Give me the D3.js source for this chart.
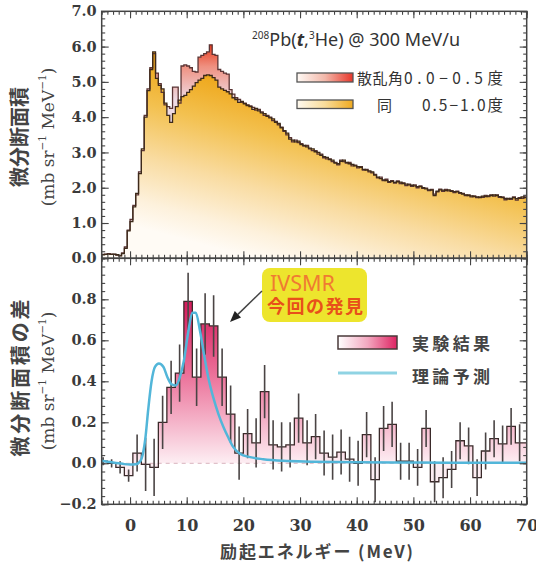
<!DOCTYPE html>
<html>
<head>
<meta charset="utf-8">
<script src="https://d3js.org/d3.v7.min.js"></script>
<style>
  body { margin: 0; background: #fff; }
  svg { display: block; }
</style>
</head>
<body>
<svg id="chart" width="536" height="562"></svg>
<script>
// ---- data ----
// upper panel: 0.5 MeV bins starting at -5 MeV
const specStart = -5;
const specWidth = 0.5;
// 散乱角 0.0-0.5度
const specFwd = [
  0.11, 0.12, 0.13, 0.12, 0.11, 0.09, 0.08, 0.15, 0.32, 0.80,
  1.10, 1.50, 1.80, 2.45, 3.05, 4.05, 4.80, 5.40, 5.80, 5.25,
  4.95, 4.70, 4.35, 4.30, 4.25, 4.85, 4.85, 4.40, 5.45, 5.48,
  5.45, 5.40, 5.30, 5.28, 5.70, 5.75, 5.80, 5.85, 6.05, 5.78,
  5.75, 5.35, 5.30, 5.25, 5.22, 4.78, 4.65, 4.55, 4.50, 4.42,
  4.40, 4.35, 4.32, 4.28, 4.20, 4.22, 4.15, 4.05, 4.05, 4.00,
  3.90, 3.88, 3.78, 3.72, 3.60, 3.50, 3.42, 3.30, 3.35, 3.28,
  3.25, 3.18, 3.20, 3.10, 3.05, 3.05, 2.95, 2.95, 2.85, 2.82,
  2.82, 2.74, 2.72, 2.65, 2.78, 2.74, 2.70, 2.72, 2.62, 2.64,
  2.56, 2.60, 2.50, 2.52, 2.45, 2.42, 2.38, 2.28, 2.30, 2.20,
  2.24, 2.15, 2.20, 2.13, 2.19, 2.12, 2.14, 2.06, 2.10, 2.04,
  2.08, 2.00, 2.05, 1.98, 1.99, 1.92, 1.95, 1.82, 1.88, 1.96,
  1.90, 1.95, 1.91, 1.92, 1.86, 1.90, 1.84, 1.84, 1.78, 1.80,
  1.74, 1.77, 1.72, 1.74, 1.73, 1.78, 1.75, 1.80, 1.76, 1.80,
  1.73, 1.74, 1.66, 1.70, 1.67, 1.74, 1.65, 1.72, 1.70, 1.76
];
// 同 0.5-1.0度
const specBack = [
  0.10, 0.11, 0.12, 0.11, 0.12, 0.10, 0.07, 0.13, 0.28, 0.78,
  1.04, 1.46, 1.84, 2.40, 3.10, 4.00, 4.75, 5.35, 5.85, 5.10,
  4.90, 4.80, 4.40, 4.05, 3.85, 4.10, 4.30, 4.48, 4.58, 4.62,
  4.70, 4.78, 4.88, 4.98, 5.05, 5.10, 5.18, 5.20, 5.18, 5.12,
  5.05, 4.85, 4.80, 4.76, 4.72, 4.66, 4.55, 4.50, 4.42, 4.45,
  4.38, 4.33, 4.30, 4.22, 4.25, 4.18, 4.12, 4.10, 4.02, 3.98,
  3.95, 3.85, 3.82, 3.70, 3.62, 3.55, 3.38, 3.35, 3.30, 3.32,
  3.22, 3.20, 3.16, 3.12, 3.10, 3.02, 3.00, 2.92, 2.88, 2.86,
  2.80, 2.78, 2.70, 2.68, 2.75, 2.78, 2.72, 2.68, 2.66, 2.62,
  2.60, 2.58, 2.52, 2.50, 2.48, 2.45, 2.36, 2.30, 2.26, 2.22,
  2.20, 2.17, 2.18, 2.15, 2.17, 2.16, 2.12, 2.10, 2.08, 2.07,
  2.05, 2.03, 2.03, 2.00, 1.97, 1.94, 1.93, 1.78, 1.90, 1.94,
  1.93, 1.92, 1.94, 1.90, 1.89, 1.88, 1.86, 1.82, 1.80, 1.78,
  1.77, 1.75, 1.74, 1.72, 1.76, 1.75, 1.77, 1.78, 1.80, 1.78,
  1.75, 1.72, 1.70, 1.68, 1.70, 1.72, 1.69, 1.70, 1.74, 1.72
];

// lower panel: difference, 1.5 MeV bins starting at -5.5 MeV
const diffStart = -5.5;
const diffWidth = 1.5;
const diffValues = [
  0.01, 0.00, -0.02, -0.06, 0.05, -0.005, -0.02, 0.20, 0.37, 0.44,
  0.79, 0.42, 0.68, 0.67, 0.42, 0.24, 0.05, 0.145, 0.10, 0.35,
  0.09, 0.08, 0.09, 0.22, 0.10, 0.13, 0.05, 0.03, 0.055, 0.02,
  0.00, 0.14, -0.08, 0.17, 0.19, 0.01, 0.01, -0.02, 0.17, -0.09,
  -0.07, -0.03, 0.11, 0.085, -0.07, 0.06, 0.12, 0.095, 0.18, 0.10,
  0.10
];
const diffErrors = [
  0.02, 0.02, 0.03, 0.03, 0.09, 0.13, 0.14, 0.13, 0.13, 0.14,
  0.14, 0.14, 0.15, 0.15, 0.14, 0.14, 0.13, 0.12, 0.12, 0.13,
  0.12, 0.12, 0.11, 0.12, 0.11, 0.11, 0.11, 0.11, 0.11, 0.11,
  0.11, 0.11, 0.11, 0.11, 0.11, 0.09, 0.09, 0.09, 0.09, 0.10,
  0.10, 0.09, 0.09, 0.09, 0.09, 0.09, 0.09, 0.09, 0.09, 0.09,
  0.09
];

// 理論予測 (theory curve)
const theoryE = [-5, -4, -3, -2, -1, 0, 1, 1.8, 2.3, 2.7, 3.2, 3.8, 4.4, 5.1, 5.9, 6.6, 7.35, 8.1, 8.8, 9.5,
  10.3, 11.0, 11.6, 12.35, 13.06, 13.8, 14.7, 15.6, 16.5, 17.3, 18.2, 19.4, 21.2, 23.5, 27, 32, 40, 50, 60, 70];
const theoryV = [0.012, 0.008, 0.004, 0.0, -0.004, -0.006, -0.005, 0.01, 0.05, 0.12, 0.26, 0.40, 0.47, 0.487, 0.47, 0.42, 0.385, 0.38, 0.42, 0.50,
  0.645, 0.735, 0.735, 0.645, 0.53, 0.42, 0.32, 0.24, 0.176, 0.128, 0.08, 0.047, 0.03, 0.02, 0.012, 0.008, 0.005, 0.004, 0.003, 0.003];

const xTicks = [0, 10, 20, 30, 40, 50, 60, 70];
const topTicks = [0, 1, 2, 3, 4, 5, 6, 7];
const bottomTicks = [-0.2, 0, 0.2, 0.4, 0.6, 0.8];

// ---- layout ----
const left = 101.7, right = 526.7;
const topY0 = 11.3, midY = 258.3, botY1 = 504.3;

const x = d3.scaleLinear().domain([-5, 70]).range([left, right]);
const yTop = d3.scaleLinear().domain([0, 7]).range([midY, topY0]);
const yBot = d3.scaleLinear().domain([-0.2, 1.0]).range([botY1, midY]);

const svg = d3.select('#chart');
const defs = svg.append('defs');

function gradient(id, attrs, stops) {
  const g = defs.append('linearGradient').attr('id', id);
  Object.entries(attrs).forEach(([k, v]) => g.attr(k, v));
  stops.forEach(([o, c]) => g.append('stop').attr('offset', o).attr('stop-color', c));
}

// orange fades from the curve towards the lower left
gradient('gradOrange', { gradientUnits: 'userSpaceOnUse', x1: 153, y1: 52, x2: 108, y2: 219 },
  [[0, '#eea312'], [0.3, '#f3c150'], [0.6, '#f9dca2'], [0.85, '#fdf1dc'], [1, '#fffbf5']]);
gradient('gradRed', { gradientUnits: 'userSpaceOnUse', x1: 0, y1: 44, x2: 0, y2: 100 },
  [[0, '#e6371a'], [0.4, '#ef9080'], [1, '#eedbe4']]);
gradient('gradPink', { gradientUnits: 'userSpaceOnUse', x1: 0, y1: yBot(0.8), x2: 0, y2: yBot(0) },
  [[0, '#d5175a'], [0.45, '#eb6f98'], [1, '#fdeef3']]);
gradient('legRed', { x1: 0, y1: 0, x2: 1, y2: 0 }, [[0, '#fffaf5'], [0.5, '#f2b8aa'], [1, '#e8362a']]);
gradient('legOrange', { x1: 0, y1: 0, x2: 1, y2: 0 }, [[0, '#fffaf0'], [0.5, '#f8dc9a'], [1, '#efaa20']]);
gradient('legPink', { x1: 0, y1: 0, x2: 1, y2: 0 }, [[0, '#ffffff'], [0.5, '#f3a8c0'], [1, '#de2362']]);

defs.append('clipPath').attr('id', 'topClip').append('rect')
  .attr('x', left).attr('y', topY0).attr('width', right - left).attr('height', midY - topY0);
defs.append('clipPath').attr('id', 'botClip').append('rect')
  .attr('x', left).attr('y', midY).attr('width', right - left).attr('height', botY1 - midY);

// histogram points for a step curve
function steps(start, width, vals) {
  const pts = vals.map((v, i) => [start + i * width, v]);
  pts.push([start + vals.length * width, vals[vals.length - 1]]);
  return pts;
}

// ---- upper panel ----
const topArea = d3.area().curve(d3.curveStepAfter)
  .x(d => x(d[0])).y0(yTop(0)).y1(d => yTop(d[1]));
const topLine = d3.line().curve(d3.curveStepAfter)
  .x(d => x(d[0])).y(d => yTop(d[1]));

const gTop = svg.append('g').attr('clip-path', 'url(#topClip)');
gTop.append('path').attr('d', topArea(steps(specStart, specWidth, specFwd))).attr('fill', 'url(#gradRed)');
gTop.append('path').attr('d', topArea(steps(specStart, specWidth, specBack))).attr('fill', 'url(#gradOrange)');
gTop.append('path').attr('d', topLine(steps(specStart, specWidth, specFwd)))
  .attr('fill', 'none').attr('stroke', '#5a3434').attr('stroke-width', 1.3);
gTop.append('path').attr('d', topLine(steps(specStart, specWidth, specBack)))
  .attr('fill', 'none').attr('stroke', '#3d2a1a').attr('stroke-width', 1.3);

// ---- lower panel ----
const botArea = d3.area().curve(d3.curveStepAfter)
  .x(d => x(d[0])).y0(yBot(0)).y1(d => yBot(d[1]));
const botLine = d3.line().curve(d3.curveStepAfter)
  .x(d => x(d[0])).y(d => yBot(d[1]));

const gBot = svg.append('g').attr('clip-path', 'url(#botClip)');
const diffPts = steps(diffStart, diffWidth, diffValues);
gBot.append('path').attr('d', botArea(diffPts)).attr('fill', 'url(#gradPink)');
gBot.append('line')
  .attr('x1', x(-5)).attr('x2', x(70)).attr('y1', yBot(0)).attr('y2', yBot(0))
  .attr('stroke', '#d9b3bd').attr('stroke-width', 1).attr('stroke-dasharray', '4,4');
gBot.append('path').attr('d', botLine(diffPts))
  .attr('fill', 'none').attr('stroke', '#3a2a2a').attr('stroke-width', 1.3);

diffValues.forEach((v, i) => {
  const c = diffStart + (i + 0.5) * diffWidth;
  gBot.append('line')
    .attr('x1', x(c)).attr('x2', x(c))
    .attr('y1', yBot(v - diffErrors[i])).attr('y2', yBot(v + diffErrors[i]))
    .attr('stroke', '#4a4444').attr('stroke-width', 1.6);
});

const theoryLine = d3.line().curve(d3.curveMonotoneX)
  .x((d, i) => x(theoryE[i])).y(d => yBot(d));
gBot.append('path').attr('d', theoryLine(theoryV))
  .attr('fill', 'none').attr('stroke', '#52b6d9').attr('stroke-width', 2.5);

// ---- axes / frame ----
const tickColor = '#444';
function axis(gen, tx, ty) {
  const g = svg.append('g').attr('transform', `translate(${tx},${ty})`).call(gen);
  g.select('.domain').remove();
  g.selectAll('.tick line').attr('stroke', tickColor).attr('stroke-width', 1.1);
  g.selectAll('.tick text')
    .attr('font-family', 'DejaVu Serif, serif').attr('font-weight', 'bold')
    .attr('fill', '#3a3a3a');
  return g;
}
const fmt = d3.format('.1f');
const minorTop = d3.range(0, 7.001, 0.2);
const minorBot = d3.range(-0.2, 1.001, 0.04);
const minorX = d3.range(-5, 70.001, 1);

// upper panel
axis(d3.axisLeft(yTop).tickValues(topTicks).tickSizeInner(-7).tickSizeOuter(0).tickPadding(5).tickFormat(fmt), left, 0)
  .selectAll('text').attr('font-size', 14.5);
axis(d3.axisLeft(yTop).tickValues(minorTop).tickSizeInner(-3.5).tickSizeOuter(0).tickFormat(''), left, 0);
axis(d3.axisRight(yTop).tickValues(topTicks).tickSizeInner(-7).tickSizeOuter(0).tickFormat(''), right, 0);
axis(d3.axisRight(yTop).tickValues(minorTop).tickSizeInner(-3.5).tickSizeOuter(0).tickFormat(''), right, 0);
axis(d3.axisTop(x).tickValues(xTicks).tickSizeInner(-7).tickSizeOuter(0).tickFormat(''), 0, topY0);
axis(d3.axisTop(x).tickValues(minorX).tickSizeInner(-3.5).tickSizeOuter(0).tickFormat(''), 0, topY0);
axis(d3.axisBottom(x).tickValues(xTicks).tickSizeInner(-7).tickSizeOuter(0).tickFormat(''), 0, midY);
axis(d3.axisBottom(x).tickValues(minorX).tickSizeInner(-3.5).tickSizeOuter(0).tickFormat(''), 0, midY);

// lower panel
axis(d3.axisLeft(yBot).tickValues(bottomTicks).tickSizeInner(-7).tickSizeOuter(0).tickPadding(5).tickFormat(fmt), left, 0)
  .selectAll('text').attr('font-size', 14.5);
axis(d3.axisLeft(yBot).tickValues(minorBot).tickSizeInner(-3.5).tickSizeOuter(0).tickFormat(''), left, 0);
axis(d3.axisRight(yBot).tickValues(bottomTicks).tickSizeInner(-7).tickSizeOuter(0).tickFormat(''), right, 0);
axis(d3.axisRight(yBot).tickValues(minorBot).tickSizeInner(-3.5).tickSizeOuter(0).tickFormat(''), right, 0);
axis(d3.axisTop(x).tickValues(xTicks).tickSizeInner(-7).tickSizeOuter(0).tickFormat(''), 0, midY);
axis(d3.axisTop(x).tickValues(minorX).tickSizeInner(-3.5).tickSizeOuter(0).tickFormat(''), 0, midY);
axis(d3.axisBottom(x).tickValues(xTicks).tickSizeInner(-7).tickSizeOuter(0).tickPadding(15).tickFormat(d3.format('d')), 0, botY1)
  .selectAll('text').attr('font-size', 16);
axis(d3.axisBottom(x).tickValues(minorX).tickSizeInner(-3.5).tickSizeOuter(0).tickFormat(''), 0, botY1);

svg.append('rect').attr('x', left).attr('y', topY0).attr('width', right - left).attr('height', midY - topY0)
  .attr('fill', 'none').attr('stroke', tickColor).attr('stroke-width', 1.5);
svg.append('rect').attr('x', left).attr('y', midY).attr('width', right - left).attr('height', botY1 - midY)
  .attr('fill', 'none').attr('stroke', tickColor).attr('stroke-width', 1.5);

// ---- axis titles ----
const jp = 'Noto Sans CJK JP, sans-serif';
function vTitle(cx, cy, text, len, size) {
  svg.append('text')
    .attr('transform', `translate(${cx},${cy}) rotate(-90)`)
    .attr('text-anchor', 'middle').attr('dominant-baseline', 'central')
    .attr('font-family', jp).attr('font-weight', 'bold').attr('font-size', size)
    .attr('fill', '#444').attr('textLength', len).attr('lengthAdjust', 'spacing')
    .text(text);
}
function unitTitle(cx, cy) {
  const t = svg.append('text')
    .attr('transform', `translate(${cx},${cy}) rotate(-90)`)
    .attr('text-anchor', 'middle').attr('dominant-baseline', 'central')
    .attr('font-family', 'DejaVu Serif, serif').attr('font-size', 17)
    .attr('fill', '#444');
  t.append('tspan').text('(mb sr');
  t.append('tspan').attr('font-size', 10.5).attr('dy', -6).text('−1');
  t.append('tspan').attr('dy', 6).text(' MeV');
  t.append('tspan').attr('font-size', 10.5).attr('dy', -6).text('−1');
  t.append('tspan').attr('dy', 6).text(')');
}
vTitle(18, 137, '微分断面積', 100, 20);
unitTitle(48, 137);
vTitle(19, 378, '微分断面積の差', 157, 20);
unitTitle(48, 381);

svg.append('text')
  .attr('x', 220).attr('y', 558)
  .attr('font-family', jp).attr('font-weight', 'bold').attr('font-size', 17)
  .attr('fill', '#444').attr('textLength', 193).attr('lengthAdjust', 'spacing')
  .text('励起エネルギー (MeV)');

// ---- reaction label ----
const title = svg.append('text')
  .attr('x', 252).attr('y', 46)
  .attr('font-family', 'Noto Sans, sans-serif').attr('font-size', 18).attr('fill', '#333')
  .attr('textLength', 208).attr('lengthAdjust', 'spacing');
title.append('tspan').attr('font-size', 10).attr('dy', -7).text('208');
title.append('tspan').attr('dy', 7).text('Pb(');
title.append('tspan').attr('font-style', 'italic').attr('font-weight', 'bold').text('t');
title.append('tspan').text(',');
title.append('tspan').attr('font-size', 10).attr('dy', -7).text('3');
title.append('tspan').attr('dy', 7).text('He) @ 300 MeV/u');

// ---- upper legend ----
svg.append('rect').attr('x', 297).attr('y', 73).attr('width', 56).attr('height', 9)
  .attr('fill', 'url(#legRed)').attr('stroke', '#555').attr('stroke-width', 1.3);
svg.append('rect').attr('x', 297).attr('y', 100).attr('width', 56).attr('height', 8.5)
  .attr('fill', 'url(#legOrange)').attr('stroke', '#555').attr('stroke-width', 1.3);
function label(xp, yp, text, len, size, anchor) {
  const t = svg.append('text').attr('x', xp).attr('y', yp)
    .attr('font-family', jp).attr('font-size', size).attr('fill', '#333')
    .attr('text-anchor', anchor || 'start').text(text);
  if (len) t.attr('textLength', len).attr('lengthAdjust', 'spacing');
  return t;
}
label(357, 84, '散乱角', 46, 15);
label(404, 84, '0.0−0.5度', 99, 15.5);
label(377, 110.5, '同', null, 15);
label(422, 110.5, '0.5−1.0度', 81, 15.5);

// ---- lower legend ----
svg.append('rect').attr('x', 338).attr('y', 336).attr('width', 59).attr('height', 13)
  .attr('fill', 'url(#legPink)').attr('stroke', '#4a3a3a').attr('stroke-width', 1.5);
svg.append('line').attr('x1', 338).attr('x2', 397).attr('y1', 373).attr('y2', 373)
  .attr('stroke', '#8fd3e3').attr('stroke-width', 3);
label(412, 350, '実験結果', 78, 17).attr('font-weight', 'bold').attr('fill', '#444');
label(412, 383, '理論予測', 78, 17).attr('font-weight', 'bold').attr('fill', '#444');

// ---- IVSMR annotation ----
svg.append('rect').attr('x', 262).attr('y', 268).attr('width', 105).attr('height', 54).attr('rx', 8)
  .attr('fill', '#ede52d');
svg.append('text').attr('x', 270).attr('y', 291)
  .attr('font-family', 'Noto Sans, sans-serif').attr('font-size', 22).attr('fill', '#f07a32')
  .attr('textLength', 65).attr('lengthAdjust', 'spacingAndGlyphs').text('IVSMR');
svg.append('text').attr('x', 267).attr('y', 313)
  .attr('font-family', jp).attr('font-weight', 'bold').attr('font-size', 18).attr('fill', '#e8501a')
  .attr('textLength', 96).attr('lengthAdjust', 'spacing').text('今回の発見');

const a0 = [262, 291], a1 = [230, 322];
const ang = Math.atan2(a1[1] - a0[1], a1[0] - a0[0]);
const hl = 11, hw = 4.5;
const base = [a1[0] - hl * Math.cos(ang), a1[1] - hl * Math.sin(ang)];
svg.append('line').attr('x1', a0[0]).attr('y1', a0[1]).attr('x2', base[0]).attr('y2', base[1])
  .attr('stroke', '#444').attr('stroke-width', 1.5);
svg.append('path')
  .attr('d', `M${a1[0]},${a1[1]} L${base[0] + hw * Math.sin(ang)},${base[1] - hw * Math.cos(ang)} L${base[0] - hw * Math.sin(ang)},${base[1] + hw * Math.cos(ang)} Z`)
  .attr('fill', '#222');
</script>
</body>
</html>
